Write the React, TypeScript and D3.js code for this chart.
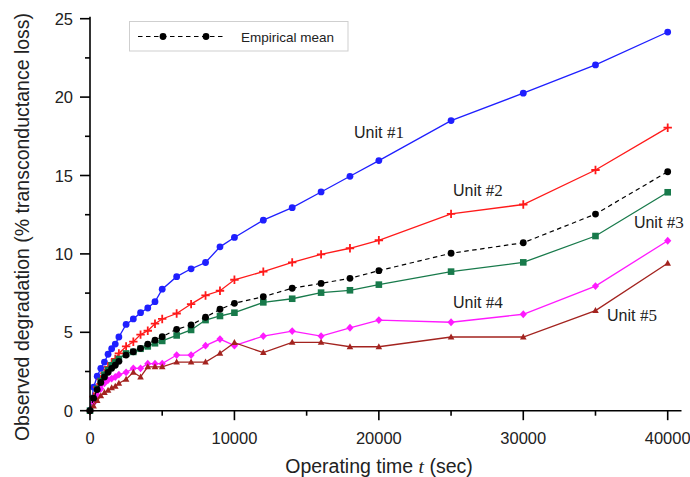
import React from "react";
import * as d3 from "d3";

// Operating times (sec) at which each unit was measured
const times = [
  0, 250, 500, 750, 1000, 1250, 1500, 1750, 2000, 2500, 3000, 3500, 4000, 4500, 5000,
  6000, 7000, 8000, 9000, 10000, 12000, 14000, 16000, 18000, 20000, 25000, 30000, 35000, 40000,
];

// Observed degradation (% transconductance loss) per unit
const unit1 = [
  0, 1.5, 2.2, 2.7, 3.1, 3.6, 3.95, 4.25, 4.7, 5.5, 5.85, 6.25, 6.55, 6.95, 7.75,
  8.55, 9.05, 9.45, 10.45, 11.05, 12.15, 12.95, 13.95, 14.95, 15.95, 18.5, 20.25, 22.05, 24.15,
];
const unit2 = [
  0, 0.9, 1.5, 2.0, 2.4, 2.8, 3.05, 3.3, 3.65, 4.1, 4.4, 4.85, 5.1, 5.55, 5.85,
  6.2, 6.8, 7.35, 7.65, 8.35, 8.87, 9.46, 9.97, 10.36, 10.87, 12.55, 13.15, 15.35, 18.05,
];
const unit3 = [
  0, 0.8, 1.4, 1.9, 2.3, 2.6, 2.9, 3.1, 3.3, 3.65, 3.75, 3.95, 4.1, 4.3, 4.45,
  4.8, 5.15, 5.78, 6.04, 6.25, 6.91, 7.14, 7.53, 7.68, 8.04, 8.87, 9.46, 11.14, 13.93,
];
const unit4 = [
  0, 0.5, 1.0, 1.4, 1.75, 1.95, 2.05, 2.15, 2.3, 2.45, 2.7, 2.7, 3.0, 3.0, 3.0,
  3.55, 3.55, 4.15, 4.57, 4.15, 4.76, 5.08, 4.76, 5.29, 5.78, 5.64, 6.15, 7.95, 10.84,
];
const unit5 = [
  0, 0.3, 0.65, 0.95, 1.15, 1.3, 1.45, 1.55, 1.75, 2.0, 2.45, 2.15, 2.8, 2.8, 2.8,
  3.1, 3.1, 3.1, 3.66, 4.34, 3.7, 4.36, 4.36, 4.08, 4.08, 4.7, 4.7, 6.38, 9.4,
];
const empiricalMean = [
  0, 0.8, 1.35, 1.8, 2.15, 2.45, 2.7, 2.9, 3.15, 3.55, 3.76, 3.98, 4.25, 4.5, 4.72,
  5.19, 5.47, 5.96, 6.47, 6.85, 7.27, 7.81, 8.12, 8.44, 8.93, 10.04, 10.71, 12.54, 15.24,
];

const xTickValues = [0, 10000, 20000, 30000, 40000];
const yTickValues = [0, 5, 10, 15, 20, 25];
const legendLabel = "Empirical mean";

const W = 690;
const H = 477;
const x = d3.scaleLinear().domain([0, 40000]).range([90, 667.7]);
const y = d3.scaleLinear().domain([0, 25]).range([410.7, 18.7]);
const xAxisEnd = 681.5;

const SANS = "'Liberation Sans', Arial, sans-serif";
const SERIF = "'Liberation Serif', 'Times New Roman', serif";

type MarkerKind = "circle" | "plus" | "square" | "diamond" | "triangle";

function Marker({ kind, cx, cy, color }: { kind: MarkerKind; cx: number; cy: number; color: string }) {
  switch (kind) {
    case "circle":
      return <circle cx={cx} cy={cy} r={3.4} fill={color} />;
    case "plus":
      return (
        <path
          d={`M${cx - 4.2},${cy}H${cx + 4.2}M${cx},${cy - 4.2}V${cy + 4.2}`}
          stroke={color}
          strokeWidth={1.8}
        />
      );
    case "square":
      return <rect x={cx - 3.3} y={cy - 3.3} width={6.6} height={6.6} fill={color} />;
    case "diamond":
      return (
        <path d={`M${cx},${cy - 3.9}L${cx + 3.6},${cy}L${cx},${cy + 3.9}L${cx - 3.6},${cy}Z`} fill={color} />
      );
    case "triangle":
      return <path d={`M${cx},${cy - 3.6}L${cx + 3.3},${cy + 2.4}L${cx - 3.3},${cy + 2.4}Z`} fill={color} />;
  }
}

type Series = { name: string; values: number[]; color: string; marker: MarkerKind; dashed?: boolean };

const series: Series[] = [
  { name: "Unit #1", values: unit1, color: "#1f1fff", marker: "circle" },
  { name: "Unit #2", values: unit2, color: "#ff1a1a", marker: "plus" },
  { name: "Unit #3", values: unit3, color: "#187a4b", marker: "square" },
  { name: "Unit #4", values: unit4, color: "#ff1aff", marker: "diamond" },
  { name: "Unit #5", values: unit5, color: "#a3231f", marker: "triangle" },
  { name: legendLabel, values: empiricalMean, color: "#000000", marker: "circle", dashed: true },
];

// Curve labels: baseline position in data units
const unitLabels = [
  { num: "#1", t: 18280, v: 17.42 },
  { num: "#2", t: 25130, v: 13.72 },
  { num: "#3", t: 37660, v: 11.62 },
  { num: "#4", t: 25130, v: 6.58 },
  { num: "#5", t: 35800, v: 5.75 },
];

const line = d3
  .line<number>()
  .x((_, i) => x(times[i]))
  .y((d) => y(d));

export default function App() {
  const minorX = d3.range(0, 40001, 5000);
  const minorY = d3.range(0, 25.01, 2.5);
  return (
    <svg
      width={W}
      height={H}
      viewBox={`0 0 ${W} ${H}`}
      style={{ position: "absolute", left: 0, top: 0, background: "#fff" }}
    >
      <rect width={W} height={H} fill="#fff" />

      {/* data */}
      {series.map((s) => (
        <g key={s.name}>
          <path
            d={line(s.values) ?? ""}
            fill="none"
            stroke={s.color}
            strokeWidth={s.dashed ? 1.2 : 1.3}
            strokeDasharray={s.dashed ? "4.5,3.5" : undefined}
          />
          {s.values.map((v, i) => (
            <Marker key={i} kind={s.marker} cx={x(times[i])} cy={y(v)} color={s.color} />
          ))}
        </g>
      ))}

      {/* axes */}
      <g stroke="#000" strokeWidth={1.6} fill="none">
        <line x1={x(0)} x2={x(0)} y1={y(25) - 2} y2={y(0)} />
        <line x1={x(0)} x2={xAxisEnd} y1={y(0)} y2={y(0)} />
        {minorX.map((t) => (
          <line key={t} x1={x(t)} x2={x(t)} y1={y(0)} y2={y(0) + (t % 10000 === 0 ? 9.5 : 5)} />
        ))}
        {minorY.map((v) => (
          <line key={v} x1={x(0) - (v % 5 === 0 ? 10 : 5)} x2={x(0)} y1={y(v)} y2={y(v)} />
        ))}
      </g>
      <g fontFamily={SANS} fontSize={16.5} fill="#222">
        {xTickValues.map((t) => (
          <text key={t} x={x(t)} y={444} textAnchor="middle">
            {t}
          </text>
        ))}
        {yTickValues.map((v) => (
          <text key={v} x={73} y={y(v) + 6} textAnchor="end">
            {v}
          </text>
        ))}
      </g>

      {/* axis titles */}
      <text x={379} y={473} textAnchor="middle" fontFamily={SANS} fontSize={19.5} fill="#222">
        Operating time{" "}
        <tspan fontFamily={SERIF} fontStyle="italic">
          t
        </tspan>{" "}
        (sec)
      </text>
      <text
        transform={`translate(29,227) rotate(-90)`}
        textAnchor="middle"
        fontFamily={SANS}
        fontSize={19.5}
        fill="#222"
      >
        Observed degradation (% transconductance loss)
      </text>

      {/* curve labels */}
      {unitLabels.map((l) => (
        <text key={l.num} x={x(l.t)} y={y(l.v)} fontFamily={SANS} fontSize={16} fill="#222">
          Unit{" "}
          <tspan fontFamily={SERIF} fontSize={17}>{l.num}</tspan>
        </text>
      ))}

      {/* legend */}
      <rect x={129.5} y={21.5} width={218.5} height={29.5} fill="#fff" stroke="#cfcfcf" strokeWidth={1} />
      <line x1={138} x2={223} y1={36.5} y2={36.5} stroke="#000" strokeWidth={1.2} strokeDasharray="4.5,3.5" />
      <circle cx={163} cy={36.5} r={3.4} fill="#000" />
      <circle cx={206} cy={36.5} r={3.4} fill="#000" />
      <text x={241} y={41.5} fontFamily={SANS} fontSize={13.5} fill="#222">
        {legendLabel}
      </text>
    </svg>
  );
}
